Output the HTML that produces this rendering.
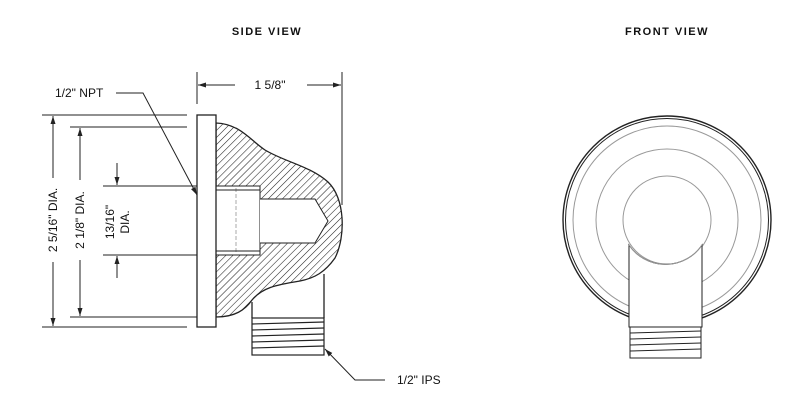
<!DOCTYPE html>
<html><head><style>body{margin:0;background:#fff}svg{display:block}text{font-family:"Liberation Sans",sans-serif;fill:#111}</style></head><body>
<svg width="800" height="407" viewBox="0 0 800 407" xmlns="http://www.w3.org/2000/svg">
<defs>
<pattern id="h" patternUnits="userSpaceOnUse" width="5" height="5" patternTransform="rotate(45)">
<line x1="0" y1="0" x2="0" y2="5" stroke="#222" stroke-width="1.1"/></pattern>
<marker id="a" markerWidth="8" markerHeight="6" refX="8" refY="3" orient="auto"><path d="M0,0.5 L8,3 L0,5.5 z" fill="#222"/></marker>
</defs>
<text x="267" y="35" font-size="11" font-weight="bold" text-anchor="middle" letter-spacing="1.5">SIDE  VIEW</text>
<text x="667" y="35" font-size="11" font-weight="bold" text-anchor="middle" letter-spacing="1.5">FRONT  VIEW</text>
<g stroke="#222" stroke-width="1" fill="none">
<line x1="197" y1="72" x2="197" y2="104"/><line x1="342" y1="72" x2="342" y2="205"/>
<line x1="235" y1="85" x2="198" y2="85" marker-end="url(#a)"/>
<line x1="307" y1="85" x2="341" y2="85" marker-end="url(#a)"/>
<path d="M216,123 C240,124 250,140 265,150 C285,162 310,166 328,182 C345,198 346,236 335,258 C325,272 315,278 300,281 C275,285 262,288 252,300 C245,310 235,317 216,317 Z" fill="url(#h)" stroke-width="1.3"/>
<line x1="252" y1="302" x2="252" y2="318" stroke-width="1.3"/><line x1="324" y1="274" x2="324" y2="318" stroke-width="1.3"/>
<rect x="197" y="186" width="63" height="69" fill="#fff"/>
<path d="M260,199 L315,199 L328,221 L315,243 L260,243" fill="#fff"/>
<line x1="236" y1="188" x2="236" y2="253" stroke="#aaa" stroke-dasharray="4,2"/>
<line x1="199" y1="190" x2="260" y2="190"/><line x1="199" y1="251" x2="260" y2="251"/>
<rect x="197" y="115" width="19" height="212" fill="#fff" stroke-width="1.3"/>
<g stroke-width="1.2"><rect x="252" y="318" width="72" height="37" fill="#fff"/>
<line x1="252" y1="324" x2="324" y2="322"/><line x1="252" y1="330" x2="324" y2="328"/><line x1="252" y1="336" x2="324" y2="334"/><line x1="252" y1="342" x2="324" y2="340"/><line x1="252" y1="348" x2="324" y2="346"/></g>
<line x1="42" y1="115" x2="187" y2="115"/><line x1="42" y1="327" x2="187" y2="327"/>
<line x1="70" y1="127" x2="187" y2="127"/><line x1="70" y1="317" x2="197" y2="317"/>
<line x1="103" y1="186" x2="197" y2="186"/><line x1="103" y1="255" x2="197" y2="255"/>
<line x1="53" y1="178" x2="53" y2="116" marker-end="url(#a)"/><line x1="53" y1="262" x2="53" y2="326" marker-end="url(#a)"/>
<line x1="80" y1="180" x2="80" y2="128" marker-end="url(#a)"/><line x1="80" y1="260" x2="80" y2="316" marker-end="url(#a)"/>
<line x1="117" y1="163" x2="117" y2="185" marker-end="url(#a)"/><line x1="117" y1="278" x2="117" y2="256" marker-end="url(#a)"/>
<polyline points="116,93 143,93 197,195" marker-end="url(#a)"/>
<polyline points="385,380 355,380 325,349" marker-end="url(#a)"/>
<circle cx="667" cy="220" r="104" stroke-width="1.4"/><circle cx="667" cy="220" r="101.5"/>
<circle cx="667" cy="220" r="94" stroke="#999"/><circle cx="667" cy="220" r="71" stroke="#999"/><circle cx="667" cy="220" r="44" stroke="#999"/>
<path d="M629,245 L629,327 L702,327 L702,245 A44,44 0 0 1 629,245 Z" fill="#fff"/>
<path d="M629,245 A44,44 0 0 0 702,245" stroke="#999"/>
<rect x="630" y="327" width="71" height="31" fill="#fff"/>
<line x1="630" y1="333" x2="701" y2="331"/><line x1="630" y1="339" x2="701" y2="337"/><line x1="630" y1="345" x2="701" y2="343"/><line x1="630" y1="351" x2="701" y2="349"/>
</g>
<text x="270" y="89" font-size="12" text-anchor="middle">1 5/8"</text>
<text x="55" y="97" font-size="12">1/2" NPT</text>
<text x="397" y="384" font-size="12">1/2" IPS</text>
<text transform="translate(57,220) rotate(-90)" font-size="12" text-anchor="middle">2 5/16" DIA.</text>
<text transform="translate(84,220) rotate(-90)" font-size="12" text-anchor="middle">2 1/8" DIA.</text>
<text transform="translate(114,222) rotate(-90)" font-size="12" text-anchor="middle">13/16"</text>
<text transform="translate(129,222) rotate(-90)" font-size="12" text-anchor="middle">DIA.</text>
</svg>
</body></html>
